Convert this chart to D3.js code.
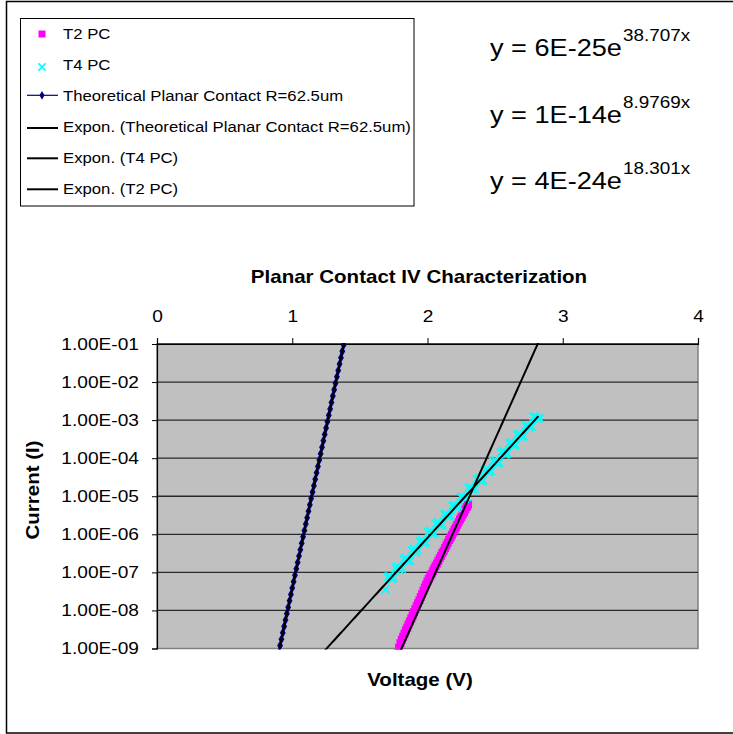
<!DOCTYPE html>
<html><head><meta charset="utf-8">
<script src="https://cdn.jsdelivr.net/npm/d3@7"></script>
<style>
html,body{margin:0;padding:0;background:#fff;}
text{font-family:"Liberation Sans",Arial,Helvetica,sans-serif;fill:#000;}
</style></head>
<body>
<svg id="chart" width="733" height="734"></svg>
<script>
// ---------- data ----------
const xTicks = [0, 1, 2, 3, 4];
const yTicks = [1e-9, 1e-8, 1e-7, 1e-6, 1e-5, 1e-4, 1e-3, 1e-2, 1e-1];
const yTickLabels = ["1.00E-09","1.00E-08","1.00E-07","1.00E-06","1.00E-05","1.00E-04","1.00E-03","1.00E-02","1.00E-01"];

const seriesNames = ["T2 PC", "T4 PC", "Theoretical Planar Contact R=62.5um"];
const trendNames = ["Expon. (Theoretical Planar Contact R=62.5um)", "Expon. (T4 PC)", "Expon. (T2 PC)"];

// Theoretical Planar Contact R=62.5um
const theoV = [0.91,0.92,0.93,0.94,0.95,0.96,0.97,0.98,0.99,1.00,1.01,1.02,1.03,1.04,1.05,1.06,1.07,1.08,1.09,1.10,
  1.11,1.12,1.13,1.14,1.15,1.16,1.17,1.18,1.19,1.20,1.21,1.22,1.23,1.24,1.25,1.26,1.27,1.28,1.29,1.30,
  1.31,1.32,1.33,1.34,1.35,1.36,1.37,1.38];
const theoI = [1.19e-9,1.75e-9,2.58e-9,3.80e-9,5.60e-9,8.24e-9,1.21e-8,1.79e-8,2.63e-8,3.88e-8,5.71e-8,8.41e-8,
  1.24e-7,1.82e-7,2.69e-7,3.96e-7,5.83e-7,8.58e-7,1.26e-6,1.86e-6,2.74e-6,4.04e-6,5.94e-6,8.75e-6,
  1.29e-5,1.90e-5,2.79e-5,4.12e-5,6.06e-5,8.92e-5,1.31e-4,1.94e-4,2.85e-4,4.20e-4,6.18e-4,9.10e-4,
  1.34e-3,1.97e-3,2.91e-3,4.28e-3,6.31e-3,9.29e-3,1.37e-2,2.01e-2,2.97e-2,4.37e-2,6.43e-2,9.47e-2];

// T2 PC
const t2V = [1.78,1.79,1.80,1.81,1.82,1.83,1.84,1.85,1.86,1.87,1.88,1.89,1.90,1.91,1.92,1.93,1.94,1.95,1.96,1.97,
  1.98,1.99,2.00,2.01,2.02,2.03,2.04,2.05,2.06,2.07,2.08,2.09,2.10,2.11,2.12,2.13,2.14,2.15,2.16,2.17,
  2.18,2.19,2.20,2.21,2.22,2.23,2.24,2.25,2.26,2.27,2.28,2.29,2.30];
const t2I = [7.59e-10,1.05e-9,1.38e-9,1.70e-9,2.04e-9,2.45e-9,2.95e-9,3.55e-9,4.27e-9,5.13e-9,6.17e-9,7.41e-9,8.91e-9,
  1.07e-8,1.29e-8,1.55e-8,1.86e-8,2.24e-8,2.69e-8,3.31e-8,3.98e-8,4.79e-8,5.75e-8,6.76e-8,7.94e-8,9.12e-8,
  1.07e-7,1.26e-7,1.48e-7,1.70e-7,2.00e-7,2.34e-7,2.75e-7,3.24e-7,3.72e-7,4.37e-7,5.13e-7,6.03e-7,7.08e-7,8.13e-7,9.55e-7,
  1.12e-6,1.32e-6,1.51e-6,1.78e-6,2.09e-6,2.46e-6,2.82e-6,3.31e-6,3.80e-6,4.47e-6,5.25e-6,6.03e-6];

// T4 PC
const t4V = [1.69,1.705,1.72,1.735,1.75,1.765,1.78,1.795,1.81,1.825,1.84,1.855,1.87,1.885,1.90,1.915,1.93,1.945,1.96,1.975,
  1.99,2.005,2.02,2.035,2.05,2.065,2.08,2.095,2.11,2.125,2.14,2.155,2.17,2.185,2.20,2.215,2.23,2.245,2.26,2.275,
  2.29,2.305,2.32,2.335,2.35,2.365,2.38,2.395,2.41,2.425,2.44,2.455,2.47,2.485,2.50,2.515,2.53,2.545,2.56,2.575,
  2.59,2.605,2.62,2.635,2.65,2.665,2.68,2.695,2.71,2.725,2.74,2.755,2.77,2.785,2.80,2.815,2.83];
const t4I = [3.55e-8,7.56e-8,7.89e-8,6.69e-8,7.14e-8,1.30e-7,1.42e-7,1.15e-7,1.25e-7,2.22e-7,2.37e-7,1.97e-7,2.05e-7,3.80e-7,
  4.16e-7,3.37e-7,3.77e-7,6.52e-7,6.97e-7,5.77e-7,6.17e-7,1.12e-6,1.22e-6,9.89e-7,1.08e-6,1.91e-6,2.04e-6,1.69e-6,
  1.81e-6,3.28e-6,3.42e-6,2.90e-6,3.03e-6,5.62e-6,5.73e-6,4.98e-6,5.43e-6,9.63e-6,9.59e-6,8.53e-6,9.53e-6,1.65e-5,
  1.68e-5,1.46e-5,1.56e-5,2.83e-5,3.02e-5,2.50e-5,2.61e-5,4.85e-5,5.30e-5,4.29e-5,4.58e-5,8.31e-5,8.87e-5,7.35e-5,
  7.66e-5,1.42e-4,1.55e-4,1.26e-4,1.34e-4,2.44e-4,2.60e-4,2.16e-4,2.25e-4,4.18e-4,4.36e-4,3.70e-4,3.77e-4,7.16e-4,
  7.29e-4,6.34e-4,6.76e-4,1.23e-3,1.19e-3,1.09e-3,1.11e-3];

// exponential trendlines y = a * e^(b x)  (order: Theoretical, T4, T2)
const trendA = [6.0e-25, 1.29e-14, 4.27e-24];
const trendB = [38.707, 8.9769, 18.301];
const trendFrom = [0.90, 1.20, 1.78];
const trendTo = [1.385, 2.82, 2.82];
const eqCoefLabels = ["6E-25", "1E-14", "4E-24"];
const eqExpLabels = ["38.707x", "8.9769x", "18.301x"];

// ---------- drawing ----------
const svg = d3.select("#chart");
const SX = 1.14;

function stretch(sel, sx) {
  sel.each(function () {
    const t = d3.select(this);
    const x = +t.attr("x") || 0, y = +t.attr("y") || 0;
    t.attr("x", 0).attr("y", 0).attr("transform", `translate(${x},${y}) scale(${sx},1)`);
  });
}

// outer frame
svg.append("rect").attr("x", 6.5).attr("y", 1.5).attr("width", 740).attr("height", 731.5)
  .attr("fill", "#fff").attr("stroke", "#000").attr("stroke-width", 1.5);

const x = d3.scaleLinear().domain([0, 4]).range([157, 698]);
const y = d3.scaleLog().domain([1e-9, 1e-1]).range([648.5, 344]);

// plot area
svg.append("rect").attr("x", x(0)).attr("y", y(1e-1)).attr("width", x(4) - x(0)).attr("height", y(1e-9) - y(1e-1))
  .attr("fill", "#C0C0C0").attr("stroke", "#808080").attr("stroke-width", 1.5);

svg.append("defs").append("clipPath").attr("id", "clip").append("rect")
  .attr("x", x(0)).attr("y", y(1e-1) - 1).attr("width", x(4) - x(0)).attr("height", y(1e-9) - y(1e-1) + 2);

// gridlines
svg.append("g").selectAll("line").data(yTicks.slice(1)).join("line")
  .attr("x1", x(0)).attr("x2", x(4)).attr("y1", d => y(d)).attr("y2", d => y(d))
  .attr("stroke", "#2a2a2a").attr("stroke-width", 1.3);

// axes
const gx = svg.append("g").attr("transform", `translate(0,${y(1e-1)})`)
  .call(d3.axisTop(x).tickValues(xTicks).tickFormat(d3.format("d")).tickSize(6).tickPadding(16));
const gy = svg.append("g").attr("transform", `translate(${x(0)},0)`)
  .call(d3.axisLeft(y).tickValues(yTicks).tickFormat((d, i) => yTickLabels[i]).tickSize(5).tickPadding(13));
[gx, gy].forEach(g => {
  g.select(".domain").attr("stroke", "#000").attr("stroke-width", 1.2);
  g.selectAll(".tick line").attr("stroke", "#000");
  g.selectAll("text").attr("font-family", "Liberation Sans, Arial, sans-serif").attr("font-size", 16.5).attr("fill", "#000");
  stretch(g.selectAll("text"), 1.16);
});

// data layer
const plot = svg.append("g").attr("clip-path", "url(#clip)");

const theo = theoV.map((v, i) => [v, theoI[i]]);
const t2 = t2V.map((v, i) => [v, t2I[i]]);
const t4 = t4V.map((v, i) => [v, t4I[i]]);

const line = d3.line().x(d => x(d[0])).y(d => y(d[1]));

// T2 PC squares
plot.append("g").selectAll("path").data(t2).join("path")
  .attr("transform", d => `translate(${x(d[0])},${y(d[1])})`)
  .attr("d", d3.symbol(d3.symbolSquare, 64)).attr("fill", "#FF00FF");

// T4 PC crosses
plot.append("g").selectAll("path").data(t4).join("path")
  .attr("transform", d => `translate(${x(d[0])},${y(d[1])})`)
  .attr("d", d3.symbol(d3.symbolX, 44)).attr("fill", "none").attr("stroke", "#00FFFF").attr("stroke-width", 1.8);

// Theoretical line + markers
plot.append("path").datum(theo).attr("d", line).attr("fill", "none").attr("stroke", "#000080").attr("stroke-width", 1.2);
plot.append("g").selectAll("path").data(theo).join("path")
  .attr("transform", d => `translate(${x(d[0])},${y(d[1])})`)
  .attr("d", d3.symbol(d3.symbolDiamond, 30)).attr("fill", "#000080");

// trendlines
trendA.forEach((a, k) => {
  const pts = d3.range(trendFrom[k], trendTo[k] + 1e-9, 0.005).map(v => [v, a * Math.exp(trendB[k] * v)]);
  plot.append("path").datum(pts).attr("d", line).attr("fill", "none").attr("stroke", "#000").attr("stroke-width", 2);
});

// titles
const title = svg.append("text").attr("x", 419).attr("y", 283).attr("text-anchor", "middle")
  .attr("font-size", 18).attr("font-weight", "bold").text("Planar Contact IV Characterization");
stretch(title, SX);
const xt = svg.append("text").attr("x", 420).attr("y", 686).attr("text-anchor", "middle")
  .attr("font-size", 18).attr("font-weight", "bold").text("Voltage (V)");
stretch(xt, SX);
svg.append("text").attr("transform", `translate(39,490) rotate(-90) scale(${SX},1)`).attr("text-anchor", "middle")
  .attr("font-size", 18).attr("font-weight", "bold").text("Current (I)");

// legend
svg.append("rect").attr("x", 20.5).attr("y", 18.5).attr("width", 393.5).attr("height", 187.5)
  .attr("fill", "#fff").attr("stroke", "#000").attr("stroke-width", 1);
const legItems = [
  { name: seriesNames[0], cy: 33.5, sym: "sq" },
  { name: seriesNames[1], cy: 64.5, sym: "x" },
  { name: seriesNames[2], cy: 95.3, sym: "theo" },
  { name: trendNames[0], cy: 127, sym: "trend" },
  { name: trendNames[1], cy: 157.3, sym: "trend" },
  { name: trendNames[2], cy: 188.3, sym: "trend" }
];
const leg = svg.append("g");
legItems.forEach(it => {
  if (it.sym === "sq") {
    leg.append("path").attr("transform", `translate(42,${it.cy + 0.5})`).attr("d", d3.symbol(d3.symbolSquare, 49)).attr("fill", "#FF00FF");
  } else if (it.sym === "x") {
    leg.append("path").attr("transform", `translate(42,${it.cy + 2.5})`).attr("d", d3.symbol(d3.symbolX, 36))
      .attr("fill", "none").attr("stroke", "#00FFFF").attr("stroke-width", 1.6);
  } else if (it.sym === "theo") {
    leg.append("line").attr("x1", 27).attr("x2", 58).attr("y1", it.cy).attr("y2", it.cy).attr("stroke", "#000080").attr("stroke-width", 1.2);
    leg.append("path").attr("transform", `translate(42,${it.cy})`).attr("d", d3.symbol(d3.symbolDiamond, 22)).attr("fill", "#000080");
  } else {
    leg.append("line").attr("x1", 27).attr("x2", 58).attr("y1", it.cy + 1).attr("y2", it.cy + 1).attr("stroke", "#000").attr("stroke-width", 2);
  }
  const t = leg.append("text").attr("x", 63).attr("y", it.cy + 5.4).attr("font-size", 15).text(it.name);
  stretch(t, 1.115);
});

// trendline equations
const eqOrder = [0, 1, 2];
eqOrder.forEach((k, i) => {
  const base = 56 + i * 66.5;
  const main = svg.append("text").attr("x", 490).attr("y", base).attr("font-size", 23).text("y = " + eqCoefLabels[k] + "e");
  const w = main.node().getComputedTextLength() * 1.18;
  stretch(main, 1.18);
  const sup = svg.append("text").attr("x", 490 + w + 1).attr("y", base - 15).attr("font-size", 16).text(eqExpLabels[k]);
  stretch(sup, 1.18);
});
</script>
</body></html>
